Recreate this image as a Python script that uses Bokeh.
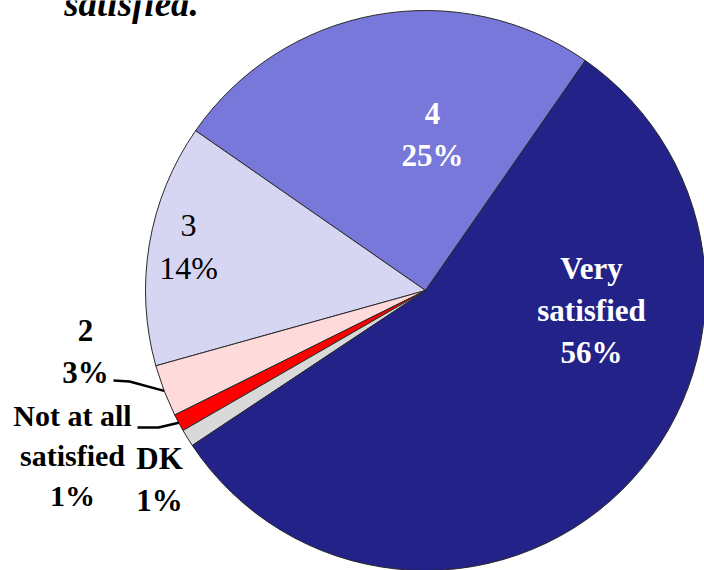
import numpy as np
from bokeh.plotting import figure
from bokeh.models import Range1d, ColumnDataSource
from bokeh.core.properties import value
from bokeh.embed import file_html
from bokeh.resources import INLINE

# Data (counter-clockwise order, starting from the "4" slice)
categories = ["4", "3", "2", "Not at all satisfied", "DK", "Very satisfied"]
values = [25, 14, 3, 1, 1, 56]
labels = ["4\n25%", "3\n14%", "2\n3%", "Not at all\nsatisfied\n1%", "DK\n1%", "Very\nsatisfied\n56%"]
colors = ["#7878DA", "#D6D6F3", "#FFDADA", "#FF0000", "#D9D9D9", "#222288"]
title_text = "satisfied."

# Layout
W, H = 704, 570
CX, CY, R = 425, -290, 280
START_DEG = 55.2

p = figure(width=W, height=H, x_range=Range1d(0, 704), y_range=Range1d(-570, 0),
           output_backend="svg", toolbar_location=None, min_border=0,
           background_fill_color="white", border_fill_color="white")
p.axis.visible = False
p.grid.visible = False
p.outline_line_color = None

vals = np.array(values, dtype=float)
frac = vals / vals.sum()
ends = np.deg2rad(START_DEG) + np.cumsum(frac) * 2 * np.pi
starts = ends - frac * 2 * np.pi
mids = (starts + ends) / 2

src = ColumnDataSource(dict(cat=categories, start=starts, end=ends, color=colors))
p.wedge(x=CX, y=CY, radius=R, start_angle="start", end_angle="end", direction="anticlock",
        fill_color="color", line_color="#2a2a2a", line_width=1, source=src)

# leader lines for small slices "2" and "Not at all satisfied"
def leader(i, lx, elbow_x, ly, ey_off):
    ex = CX + R * np.cos(mids[i])
    ey = CY + R * np.sin(mids[i])
    p.line([lx, elbow_x, ex], [ly, ly + ey_off, ey], line_color="black", line_width=2.5)

leader(2, 113, 129, -380, -1)
leader(3, 137, 158, -427, 0)

font = value("Liberation Serif")

def label(i, x, y, color, style, size="31px"):
    p.text(x=[x], y=[y], text=[labels[i]], text_font=font, text_font_size=size,
           text_font_style=style, text_color=color, text_align="center",
           text_baseline="middle", text_line_height=1.2)

label(0, 432, -134, "white", "bold")
label(5, 591, -310, "white", "bold")
label(1, 188, -246, "black", "normal", "32px")
label(2, 85, -351, "black", "bold")
label(3, 72, -455, "black", "bold", "30px")
label(4, 159, -479, "black", "bold")

p.text(x=[131], y=[-3], text=[title_text], text_font=font, text_font_size="37px",
       text_font_style="bold italic", text_color="black", text_align="center",
       text_baseline="alphabetic")

open("out.html", "w").write(file_html(p, INLINE))
